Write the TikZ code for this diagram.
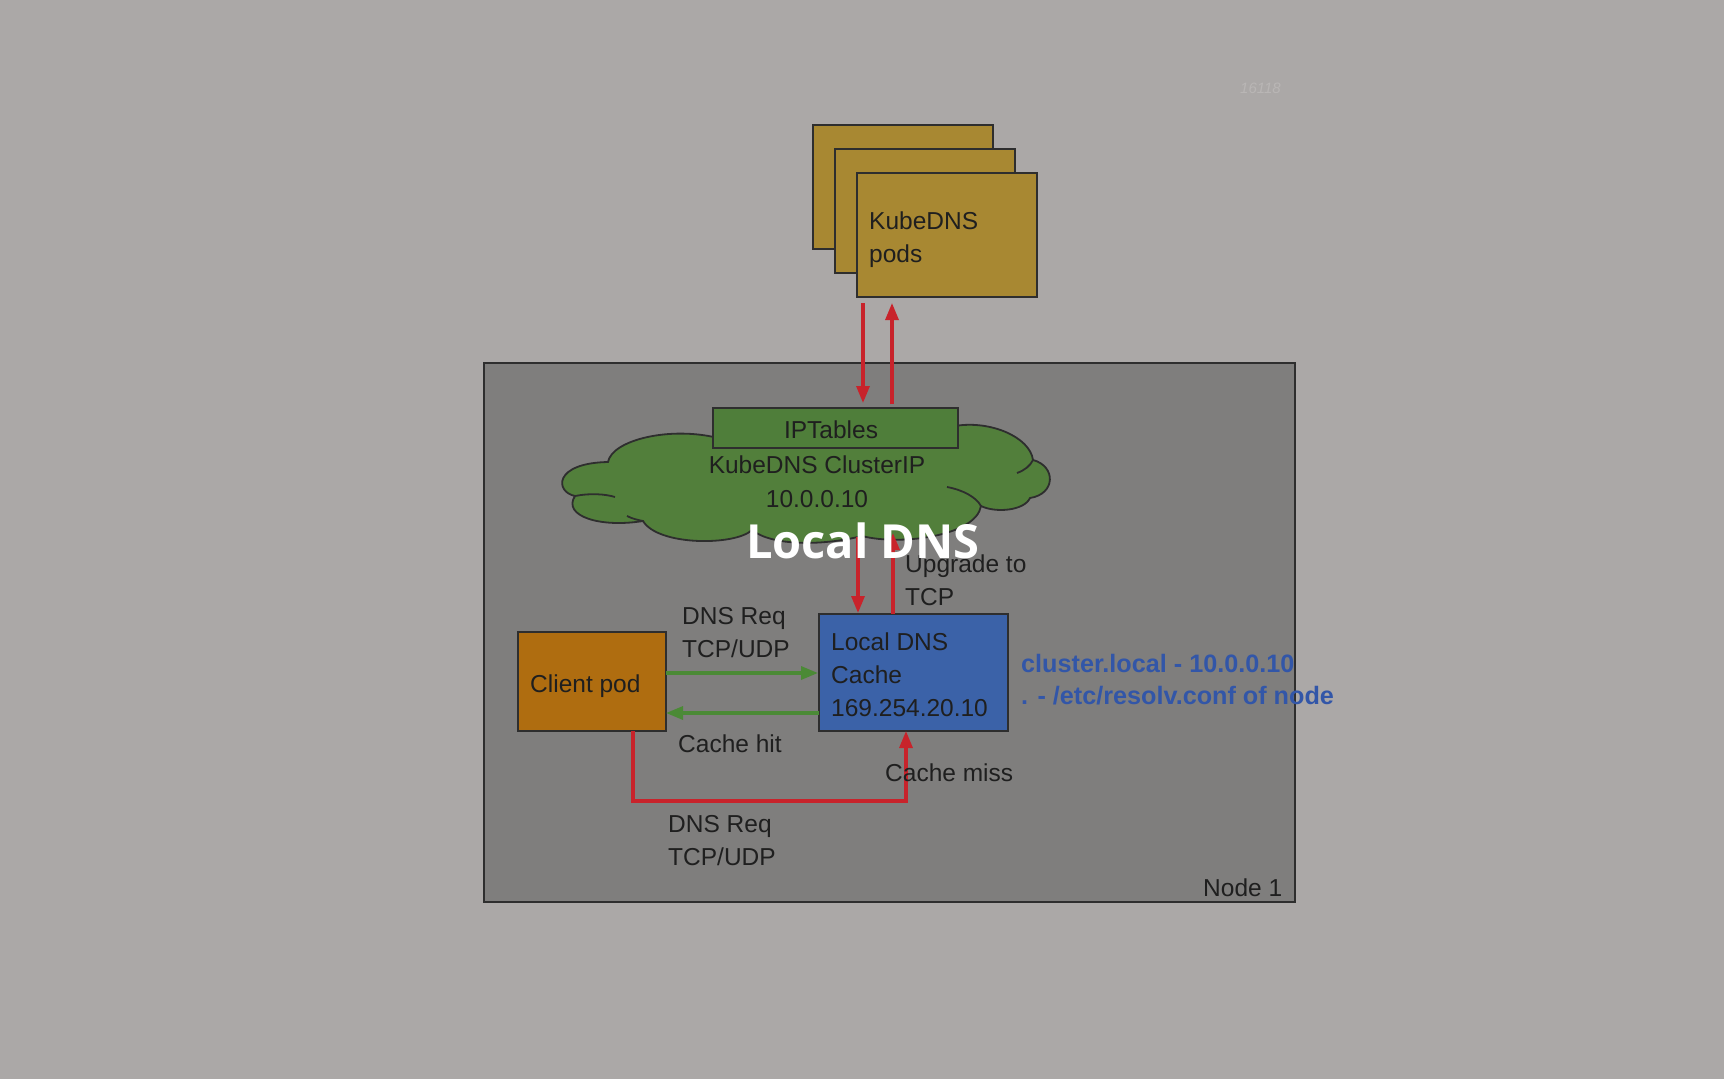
\documentclass[tikz,border=0pt]{standalone}
\usepackage{fontspec}
\setmainfont{Liberation Sans}
\newfontfamily\wmfont{Open Sans}
\usetikzlibrary{arrows.meta}
\definecolor{bgc}{HTML}{ABA8A7}
\definecolor{nodefill}{HTML}{7F7E7D}
\definecolor{podc}{HTML}{A88832}
\definecolor{cloudc}{HTML}{527F3B}
\definecolor{iptc}{HTML}{4F7E3A}
\definecolor{cachec}{HTML}{3B62A8}
\definecolor{clientc}{HTML}{AF6D10}
\definecolor{redc}{HTML}{C8232B}
\definecolor{greenc}{HTML}{4B8A36}
\definecolor{txtc}{HTML}{1F1F1F}
\definecolor{bluet}{HTML}{3256A8}
\definecolor{edgec}{HTML}{2E2E2E}
\definecolor{wmc}{HTML}{B9B6B5}
\newcommand{\mlines}[1]{\begin{tabular}[t]{@{}l@{}}#1\end{tabular}}
\tikzset{
  box/.style={draw=edgec, line width=1.8pt, inner sep=0pt, outer sep=0pt},
  lbl/.style={font=\fontsize{24.5}{33}\selectfont, text=txtc, inner sep=0pt, anchor=base west},
  clbl/.style={font=\fontsize{24.5}{33}\selectfont, text=txtc, inner sep=0pt, anchor=base},
  redarrow/.style={draw=redc, line width=3.2pt, -{Triangle[length=17pt,width=13pt]}},
  greenarrow/.style={draw=greenc, line width=3.2pt, -{Triangle[length=17pt,width=13pt]}},
  cloudline/.style={draw=edgec, line width=1.8pt},
}
\begin{document}
\begin{tikzpicture}[x=1pt,y=-1pt]
\useasboundingbox (0,0) rectangle (1724,1079);
\fill[bgc] (0,0) rectangle (1724,1079);

% watermark
\node[font=\fontsize{15}{15}\selectfont\itshape, text=wmc, inner sep=0pt, anchor=base west] (wm) at (1240,93) {16118};

% KubeDNS pods stack
\node[box, fill=podc, minimum width=180pt, minimum height=124pt] (back) at (903,187) {};
\node[box, fill=podc, minimum width=180pt, minimum height=124pt] (mid) at (925,211) {};
\node[box, fill=podc, minimum width=180pt, minimum height=124pt] (front) at (947,235) {};
\node[lbl] (podtxt) at (869,229) {\mlines{KubeDNS\\pods}};

% Node 1 box
\node[box, fill=nodefill, minimum width=811pt, minimum height=539pt] (node1) at (889.5,632.5) {};
\node[lbl] (node1txt) at (1203,896) {Node 1};

% cloud
\filldraw[fill=cloudc, cloudline]
  (575,496)
  .. controls (555,492) and (553,463) .. (608,462)
  .. controls (612,440) and (670,426) .. (718,438)
  .. controls (760,410) and (915,410) .. (955,426)
  .. controls (990,420) and (1030,437) .. (1033,460)
  .. controls (1056,466) and (1056,494) .. (1030,498)
  .. controls (1024,511) and (995,513) .. (981,506)
  .. controls (976,536) and (900,546) .. (862,536)
  .. controls (822,546) and (772,546) .. (752,530)
  .. controls (735,546) and (658,546) .. (643,521)
  .. controls (600,528) and (562,516) .. (575,496) -- cycle;
\draw[cloudline] (575,496) .. controls (590,493) and (605,494) .. (615,497);
\draw[cloudline] (627,516) .. controls (633,519) and (638,520) .. (643,521);
\draw[cloudline] (1017,473) .. controls (1025,470) and (1030,466) .. (1033,460);
\draw[cloudline] (947,487) .. controls (963,490) and (976,497) .. (981,506);
\coordinate (cloudbotA) at (858,537);
\coordinate (cloudbotB) at (893,533);

% IPTables
\node[box, fill=iptc, minimum width=245pt, minimum height=40pt] (ipt) at (835.5,428) {};
\node[clbl] (ipttxt) at (831,438) {IPTables};
\node[clbl] (cip1) at (817,473) {KubeDNS ClusterIP};
\node[clbl] (cip2) at (817,507) {10.0.0.10};

% arrows pods <-> iptables
\draw[redarrow, shorten <=6pt, shorten >=5pt] ([xshift=6pt]front.south west) -- ([xshift=150pt]ipt.north west);
\draw[redarrow, shorten <=4pt, shorten >=6pt] ([xshift=179pt]ipt.north west) -- ([xshift=35pt]front.south west);

% Local DNS cache
\node[box, fill=cachec, minimum width=189pt, minimum height=117pt] (cache) at (913.5,672.5) {};
\node[lbl] (cachetxt) at (831,650) {\mlines{Local DNS\\Cache\\169.254.20.10}};

% arrows cloud <-> cache
\draw[redarrow, shorten >=1pt] (cloudbotA) -- ([xshift=39pt]cache.north west);
\draw[redarrow] ([xshift=74pt]cache.north west) -- (cloudbotB);
\node[lbl] (upg) at (905,572) {\mlines{Upgrade to\\TCP}};

% client pod
\node[box, fill=clientc, minimum width=148pt, minimum height=99pt] (client) at (592,681.5) {};
\node[lbl] (clienttxt) at (530,692) {Client pod};

% green arrows
\draw[greenarrow, shorten >=1pt] ([yshift=8.5pt]client.east) -- ([yshift=8.5pt]client.east -| cache.west);
\draw[greenarrow] ([yshift=-31.5pt]client.east -| cache.west) -- ([yshift=-31.5pt]client.east);
\node[lbl] (req1) at (682,624) {\mlines{DNS Req\\TCP/UDP}};
\node[lbl] (hit) at (678,752) {Cache hit};

% red path
\draw[redarrow] ([xshift=115pt]client.south west) -- ++(0,70) -| ([xshift=87pt]cache.south west);
\node[lbl] (miss) at (885,781) {Cache miss};
\node[lbl] (req2) at (668,832) {\mlines{DNS Req\\TCP/UDP}};

% blue text
\node[lbl, text=bluet, font=\fontsize{25.2}{32}\selectfont\bfseries] (conf) at (1021,672) {\mlines{cluster.local - 10.0.0.10\\. - /etc/resolv.conf of node}};

% overlay title
\node[font=\fontsize{47}{47}\selectfont\wmfont\bfseries, text=white, inner sep=0pt, anchor=base] (title) at (863,558) {Local DNS};
\end{tikzpicture}
\end{document}
